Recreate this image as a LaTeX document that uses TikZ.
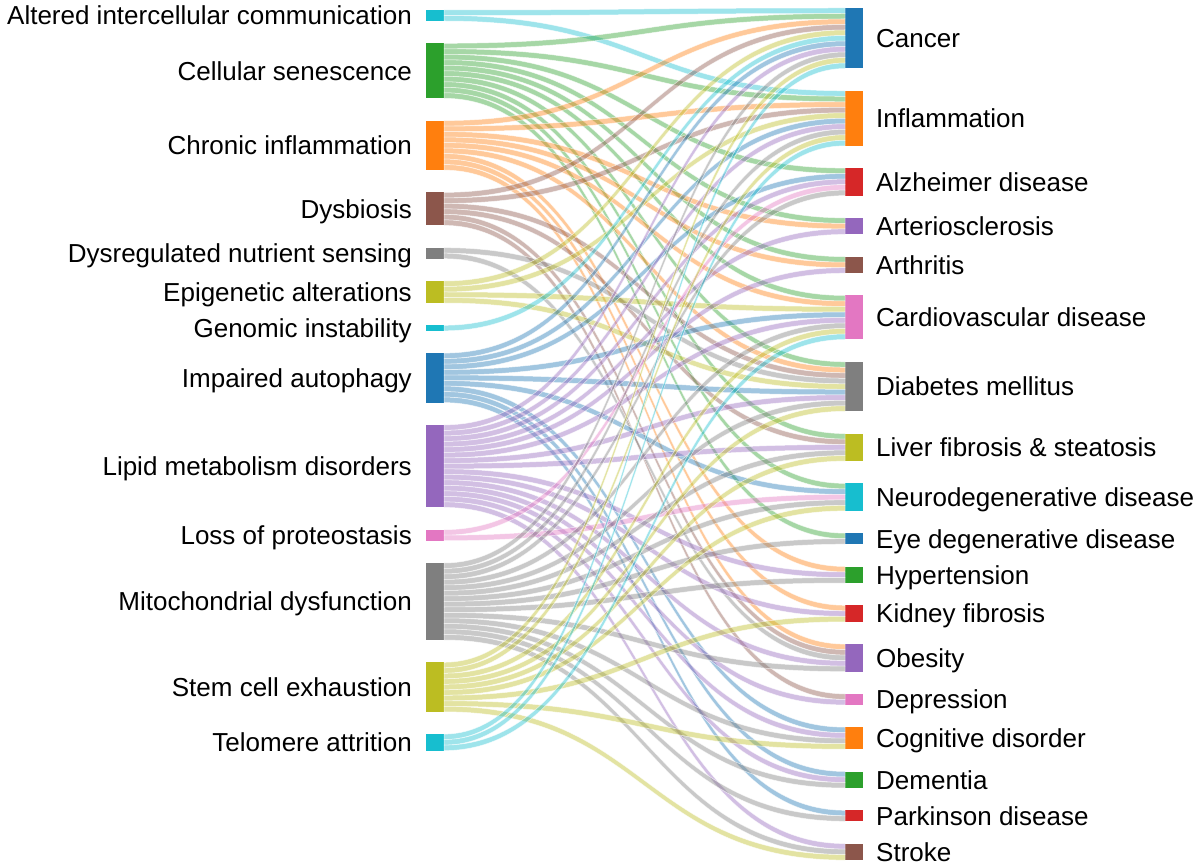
\documentclass[tikz,border=0pt]{standalone}
\usepackage{fontspec}
\setmainfont{Liberation Sans}
\usetikzlibrary{positioning}

\definecolor{cBlue}{HTML}{1F77B4}
\definecolor{cOrange}{HTML}{FF7F0E}
\definecolor{cGreen}{HTML}{2CA02C}
\definecolor{cRed}{HTML}{D62728}
\definecolor{cPurple}{HTML}{9467BD}
\definecolor{cBrown}{HTML}{8C564B}
\definecolor{cPink}{HTML}{E377C2}
\definecolor{cGray}{HTML}{7F7F7F}
\definecolor{cOlive}{HTML}{BCBD22}
\definecolor{cCyan}{HTML}{17BECF}

\tikzset{
    bar/.style={rectangle, inner sep=0pt, outer sep=0pt, minimum width=18pt},
    txt/.style={inner sep=0pt, text height=18.6pt, text depth=0pt, font=\fontsize{26}{30}\selectfont},
    band/.style={fill opacity=.42, draw=white, draw opacity=.7, line width=.5pt},
}

% one band: source, slot at source, target, slot at target, colour
\newcommand{\flow}[5]{%
    \filldraw[band, fill=#5] ([yshift=-#2*5.5pt]#1.north east)
        .. controls +(200.5pt,0) and +(-200.5pt,0) .. ([yshift=-#4*5.5pt]#3.north west)
        -- ([yshift=-#4*5.5pt-5.5pt]#3.north west)
        .. controls +(-200.5pt,0) and +(200.5pt,0) .. ([yshift=-#2*5.5pt-5.5pt]#1.north east)
        -- cycle;}

\begin{document}
\begin{tikzpicture}[x=1pt, y=-1pt]
    \useasboundingbox (0,0) rectangle (1200,866);

    % hallmarks
    \node (alt) at (435,15.5) [bar, fill=cCyan, minimum height=11pt] {};
    \node (sen) at (435,70.8) [bar, fill=cGreen, minimum height=55pt] {};
    \node (chr) at (435,145.35) [bar, fill=cOrange, minimum height=49.5pt] {};
    \node (dys) at (435,208.9) [bar, fill=cBrown, minimum height=33pt] {};
    \node (nut) at (435,253.2) [bar, fill=cGray, minimum height=11pt] {};
    \node (epi) at (435,292) [bar, fill=cOlive, minimum height=22pt] {};
    \node (gen) at (435,328.05) [bar, fill=cCyan, minimum height=5.5pt] {};
    \node (aut) at (435,377.85) [bar, fill=cBlue, minimum height=49.5pt] {};
    \node (lip) at (435,466.15) [bar, fill=cPurple, minimum height=82.5pt] {};
    \node (pro) at (435,535.2) [bar, fill=cPink, minimum height=11pt] {};
    \node (mit) at (435,601.5) [bar, fill=cGray, minimum height=77pt] {};
    \node (stm) at (435,687.05) [bar, fill=cOlive, minimum height=49.5pt] {};
    \node (tel) at (435,742.35) [bar, fill=cCyan, minimum height=16.5pt] {};

    \node (alt-t) [txt, left=14pt of alt] {Altered intercellular communication};
    \node (sen-t) [txt, left=14pt of sen] {Cellular senescence};
    \node (chr-t) [txt, left=14pt of chr] {Chronic inflammation};
    \node (dys-t) [txt, left=14pt of dys] {Dysbiosis};
    \node (nut-t) [txt, left=14pt of nut] {Dysregulated nutrient sensing};
    \node (epi-t) [txt, left=14pt of epi] {Epigenetic alterations};
    \node (gen-t) [txt, left=14pt of gen] {Genomic instability};
    \node (aut-t) [txt, left=14pt of aut] {Impaired autophagy};
    \node (lip-t) [txt, left=14pt of lip] {Lipid metabolism disorders};
    \node (pro-t) [txt, left=14pt of pro] {Loss of proteostasis};
    \node (mit-t) [txt, left=14pt of mit] {Mitochondrial dysfunction};
    \node (stm-t) [txt, left=14pt of stm] {Stem cell exhaustion};
    \node (tel-t) [txt, left=14pt of tel] {Telomere attrition};

    % diseases
    \node (can) at (854,38.25) [bar, fill=cBlue, minimum height=60.5pt] {};
    \node (inf) at (854,118.3) [bar, fill=cOrange, minimum height=55pt] {};
    \node (alz) at (854,181.85) [bar, fill=cRed, minimum height=27.5pt] {};
    \node (art) at (854,226.15) [bar, fill=cPurple, minimum height=16.5pt] {};
    \node (arh) at (854,264.95) [bar, fill=cBrown, minimum height=16.5pt] {};
    \node (cvd) at (854,317.5) [bar, fill=cPink, minimum height=44pt] {};
    \node (dia) at (854,386.55) [bar, fill=cGray, minimum height=49.5pt] {};
    \node (liv) at (854,447.35) [bar, fill=cOlive, minimum height=27.5pt] {};
    \node (neu) at (854,497.15) [bar, fill=cCyan, minimum height=27.5pt] {};
    \node (eye) at (854,538.7) [bar, fill=cBlue, minimum height=11pt] {};
    \node (hyp) at (854,574.75) [bar, fill=cGreen, minimum height=16.5pt] {};
    \node (kid) at (854,613.55) [bar, fill=cRed, minimum height=16.5pt] {};
    \node (obe) at (854,657.85) [bar, fill=cPurple, minimum height=27.5pt] {};
    \node (dep) at (854,699.4) [bar, fill=cPink, minimum height=11pt] {};
    \node (cog) at (854,738.2) [bar, fill=cOrange, minimum height=22pt] {};
    \node (dem) at (854,779.75) [bar, fill=cGreen, minimum height=16.5pt] {};
    \node (par) at (854,815.8) [bar, fill=cRed, minimum height=11pt] {};
    \node (str) at (854,851.85) [bar, fill=cBrown, minimum height=16.5pt] {};

    \node (can-t) [txt, right=13pt of can] {Cancer};
    \node (inf-t) [txt, right=13pt of inf] {Inflammation};
    \node (alz-t) [txt, right=13pt of alz] {Alzheimer disease};
    \node (art-t) [txt, right=13pt of art] {Arteriosclerosis};
    \node (arh-t) [txt, right=13pt of arh] {Arthritis};
    \node (cvd-t) [txt, right=13pt of cvd] {Cardiovascular disease};
    \node (dia-t) [txt, right=13pt of dia] {Diabetes mellitus};
    \node (liv-t) [txt, right=13pt of liv] {Liver fibrosis \& steatosis};
    \node (neu-t) [txt, right=13pt of neu] {Neurodegenerative disease};
    \node (eye-t) [txt, right=13pt of eye] {Eye degenerative disease};
    \node (hyp-t) [txt, right=13pt of hyp] {Hypertension};
    \node (kid-t) [txt, right=13pt of kid] {Kidney fibrosis};
    \node (obe-t) [txt, right=13pt of obe] {Obesity};
    \node (dep-t) [txt, right=13pt of dep] {Depression};
    \node (cog-t) [txt, right=13pt of cog] {Cognitive disorder};
    \node (dem-t) [txt, right=13pt of dem] {Dementia};
    \node (par-t) [txt, right=13pt of par] {Parkinson disease};
    \node (str-t) [txt, right=13pt of str] {Stroke};

    % bands
    \flow{alt}{0}{can}{0}{cCyan}
    \flow{alt}{1}{inf}{0}{cCyan}

    \flow{sen}{0}{can}{1}{cGreen}
    \flow{sen}{1}{inf}{1}{cGreen}
    \flow{sen}{2}{alz}{0}{cGreen}
    \flow{sen}{3}{art}{0}{cGreen}
    \flow{sen}{4}{arh}{0}{cGreen}
    \flow{sen}{5}{cvd}{0}{cGreen}
    \flow{sen}{6}{dia}{0}{cGreen}
    \flow{sen}{7}{liv}{0}{cGreen}
    \flow{sen}{8}{neu}{0}{cGreen}
    \flow{sen}{9}{eye}{0}{cGreen}

    \flow{chr}{0}{can}{2}{cOrange}
    \flow{chr}{1}{inf}{2}{cOrange}
    \flow{chr}{2}{art}{1}{cOrange}
    \flow{chr}{3}{arh}{1}{cOrange}
    \flow{chr}{4}{cvd}{1}{cOrange}
    \flow{chr}{5}{dia}{1}{cOrange}
    \flow{chr}{6}{hyp}{0}{cOrange}
    \flow{chr}{7}{kid}{0}{cOrange}
    \flow{chr}{8}{obe}{0}{cOrange}

    \flow{dys}{0}{can}{3}{cBrown}
    \flow{dys}{1}{inf}{3}{cBrown}
    \flow{dys}{2}{dia}{2}{cBrown}
    \flow{dys}{3}{liv}{1}{cBrown}
    \flow{dys}{4}{obe}{1}{cBrown}
    \flow{dys}{5}{dep}{0}{cBrown}

    \flow{nut}{0}{dia}{3}{cGray}
    \flow{nut}{1}{obe}{2}{cGray}

    \flow{epi}{0}{can}{4}{cOlive}
    \flow{epi}{1}{inf}{4}{cOlive}
    \flow{epi}{2}{cvd}{2}{cOlive}
    \flow{epi}{3}{dia}{4}{cOlive}

    \flow{gen}{0}{can}{5}{cCyan}

    \flow{aut}{0}{can}{6}{cBlue}
    \flow{aut}{1}{inf}{5}{cBlue}
    \flow{aut}{2}{alz}{1}{cBlue}
    \flow{aut}{3}{cvd}{3}{cBlue}
    \flow{aut}{4}{dia}{5}{cBlue}
    \flow{aut}{5}{neu}{1}{cBlue}
    \flow{aut}{6}{cog}{0}{cBlue}
    \flow{aut}{7}{dem}{0}{cBlue}
    \flow{aut}{8}{par}{0}{cBlue}

    \flow{lip}{0}{can}{7}{cPurple}
    \flow{lip}{1}{inf}{6}{cPurple}
    \flow{lip}{2}{alz}{2}{cPurple}
    \flow{lip}{3}{art}{2}{cPurple}
    \flow{lip}{4}{arh}{2}{cPurple}
    \flow{lip}{5}{cvd}{4}{cPurple}
    \flow{lip}{6}{dia}{6}{cPurple}
    \flow{lip}{7}{liv}{2}{cPurple}
    \flow{lip}{8}{hyp}{1}{cPurple}
    \flow{lip}{9}{kid}{1}{cPurple}
    \flow{lip}{10}{obe}{3}{cPurple}
    \flow{lip}{11}{dep}{1}{cPurple}
    \flow{lip}{12}{cog}{1}{cPurple}
    \flow{lip}{13}{dem}{1}{cPurple}
    \flow{lip}{14}{str}{0}{cPurple}

    \flow{pro}{0}{alz}{3}{cPink}
    \flow{pro}{1}{neu}{2}{cPink}

    \flow{mit}{0}{can}{8}{cGray}
    \flow{mit}{1}{inf}{7}{cGray}
    \flow{mit}{2}{alz}{4}{cGray}
    \flow{mit}{3}{cvd}{5}{cGray}
    \flow{mit}{4}{dia}{7}{cGray}
    \flow{mit}{5}{liv}{3}{cGray}
    \flow{mit}{6}{neu}{3}{cGray}
    \flow{mit}{7}{eye}{1}{cGray}
    \flow{mit}{8}{hyp}{2}{cGray}
    \flow{mit}{9}{obe}{4}{cGray}
    \flow{mit}{10}{cog}{2}{cGray}
    \flow{mit}{11}{dem}{2}{cGray}
    \flow{mit}{12}{par}{1}{cGray}
    \flow{mit}{13}{str}{1}{cGray}

    \flow{stm}{0}{can}{9}{cOlive}
    \flow{stm}{1}{inf}{8}{cOlive}
    \flow{stm}{2}{cvd}{6}{cOlive}
    \flow{stm}{3}{dia}{8}{cOlive}
    \flow{stm}{4}{liv}{4}{cOlive}
    \flow{stm}{5}{neu}{4}{cOlive}
    \flow{stm}{6}{kid}{2}{cOlive}
    \flow{stm}{7}{cog}{3}{cOlive}
    \flow{stm}{8}{str}{2}{cOlive}

    \flow{tel}{0}{can}{10}{cCyan}
    \flow{tel}{1}{inf}{9}{cCyan}
    \flow{tel}{2}{cvd}{7}{cCyan}
\end{tikzpicture}
\end{document}
